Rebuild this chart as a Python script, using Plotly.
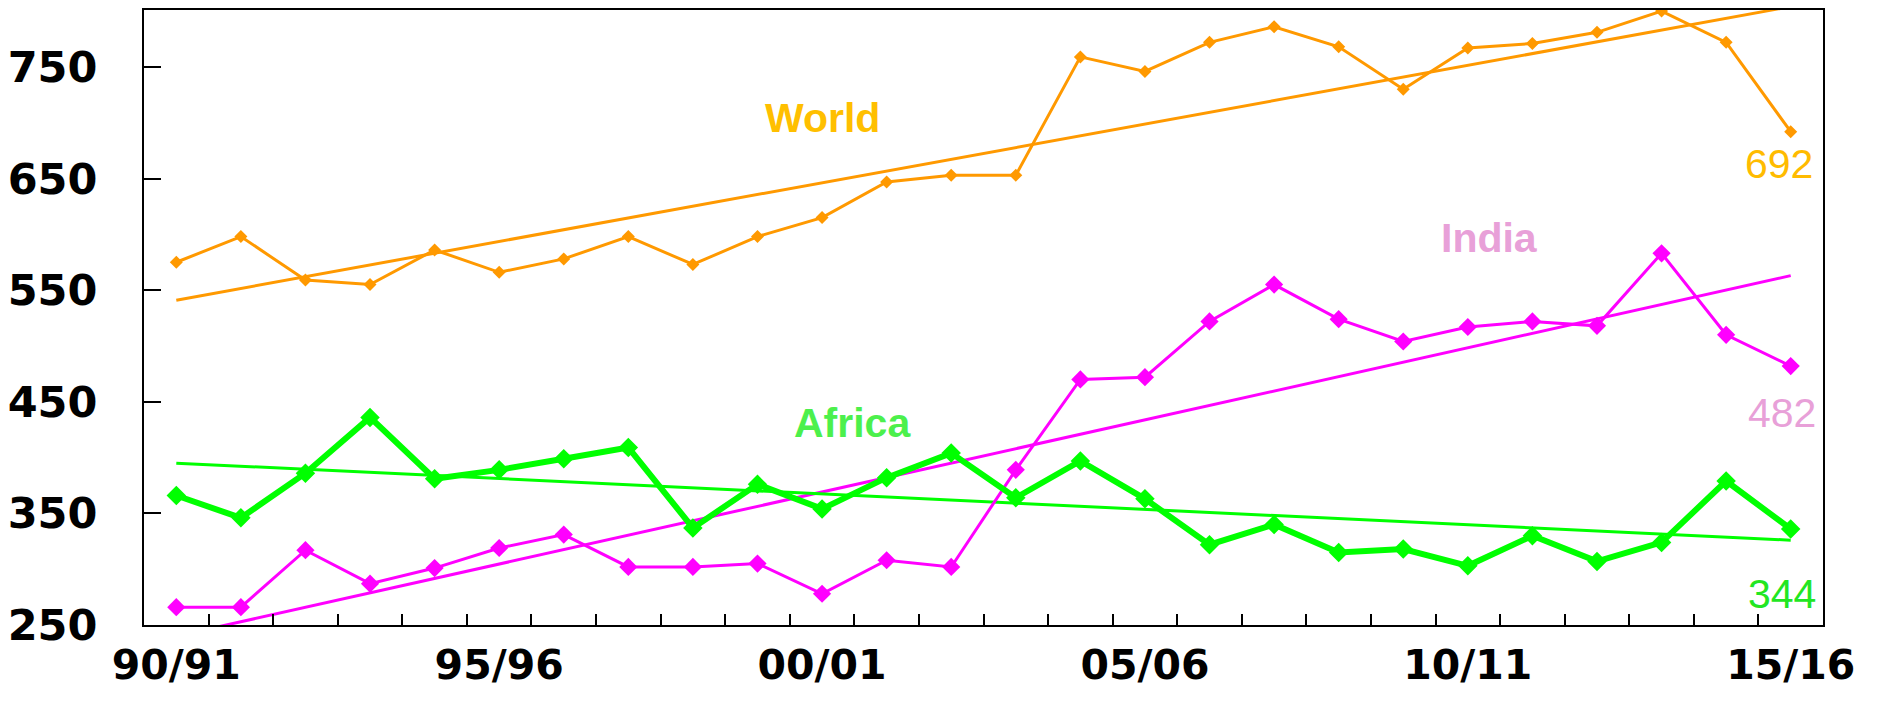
import plotly.graph_objects as go

seasons = ["90/91", "91/92", "92/93", "93/94", "94/95", "95/96", "96/97", "97/98",
           "98/99", "99/00", "00/01", "01/02", "02/03", "03/04", "04/05", "05/06",
           "06/07", "07/08", "08/09", "09/10", "10/11", "11/12", "12/13", "13/14",
           "14/15", "15/16"]
labelled = ["90/91", "95/96", "00/01", "05/06", "10/11", "15/16"]

world = [575, 598, 559, 555, 586, 566, 578, 598, 573, 598, 615, 647, 653, 653,
         759, 746, 772, 786, 768, 730, 767, 771, 781, 800, 772, 692]
india = [266, 266, 317, 287, 301, 319, 331, 302, 302, 305, 278, 308, 302, 389,
         470, 472, 522, 555, 524, 504, 517, 522, 518, 583, 510, 482]
africa = [366, 346, 386, 436, 381, 389, 399, 409, 337, 376, 354, 382, 404, 364,
          397, 363, 322, 340, 315, 318, 303, 330, 307, 324, 379, 336]

trend_ends = ["90/91", "15/16"]
world_trend = [541, 804]
india_trend = [240, 563]
africa_trend = [395, 326]

yticks = [250, 350, 450, 550, 650, 750]

idx = {s: i for i, s in enumerate(seasons)}
x = [idx[s] for s in seasons]
xt = [idx[s] for s in trend_ends]

C_WORLD = "#FF9900"
C_INDIA = "#FF00FF"
C_AFRICA = "#00FF00"

fig = go.Figure()
# trend lines
fig.add_trace(go.Scatter(x=xt, y=world_trend, mode="lines",
                         line=dict(color=C_WORLD, width=3)))
fig.add_trace(go.Scatter(x=xt, y=india_trend, mode="lines",
                         line=dict(color=C_INDIA, width=3)))
fig.add_trace(go.Scatter(x=xt, y=africa_trend, mode="lines",
                         line=dict(color=C_AFRICA, width=3)))
# data
fig.add_trace(go.Scatter(x=x, y=world, mode="lines+markers",
                         line=dict(color=C_WORLD, width=3),
                         marker=dict(symbol="diamond", size=10, color=C_WORLD)))
fig.add_trace(go.Scatter(x=x, y=india, mode="lines+markers",
                         line=dict(color=C_INDIA, width=3),
                         marker=dict(symbol="diamond", size=14, color=C_INDIA)))
fig.add_trace(go.Scatter(x=x, y=africa, mode="lines+markers",
                         line=dict(color=C_AFRICA, width=6),
                         marker=dict(symbol="diamond", size=15, color=C_AFRICA)))

name_font = dict(family="Liberation Sans", size=41, weight="bold")
num_font = dict(family="Liberation Sans", size=41)
ann = [
    dict(text="World", x=10, y=704, xanchor="center", yanchor="middle",
         font=dict(color="#FFBF00", **name_font)),
    dict(text="Africa", x=10.47, y=431, xanchor="center", yanchor="middle",
         font=dict(color="#4CF04C", **name_font)),
    dict(text="India", x=20.33, y=597, xanchor="center", yanchor="middle",
         font=dict(color="#E8A0D8", **name_font)),
    dict(text="692", x=25.38, y=663, xanchor="right", yanchor="middle",
         font=dict(color="#FFBB00", **num_font)),
    dict(text="482", x=25.43, y=440, xanchor="right", yanchor="middle",
         font=dict(color="#E8A0D8", **num_font)),
    dict(text="344", x=25.43, y=278, xanchor="right", yanchor="middle",
         font=dict(color="#22E622", **num_font)),
]
for a in ann:
    a.update(xref="x", yref="y", showarrow=False)

fig.update_layout(
    width=1879, height=696,
    margin=dict(l=136, r=64, t=0, b=79),
    paper_bgcolor="white", plot_bgcolor="white",
    showlegend=False,
    annotations=ann,
    xaxis=dict(range=[-0.5, 25.5], tickmode="array",
               tickvals=[idx[s] for s in labelled], ticktext=labelled,
               ticks="", showgrid=False, zeroline=False,
               showline=True, linecolor="black", linewidth=2, mirror=True,
               tickfont=dict(family="DejaVu Sans", size=41, weight="bold", color="black"),
               ticklabelstandoff=3,
               minor=dict(tickvals=[i + 0.5 for i in range(len(seasons) - 1)],
                          ticks="inside", ticklen=11, tickcolor="black",
                          tickwidth=1.5, showgrid=False)),
    yaxis=dict(range=[250, 801], tickmode="array", tickvals=yticks,
               ticks="inside", ticklen=17, tickcolor="black", tickwidth=1.5,
               showgrid=False, zeroline=False,
               showline=True, linecolor="black", linewidth=2, mirror=True,
               tickfont=dict(family="DejaVu Sans", size=43, weight="bold", color="black"),
               ticklabelstandoff=36),
)

fig.write_html("out.html")
